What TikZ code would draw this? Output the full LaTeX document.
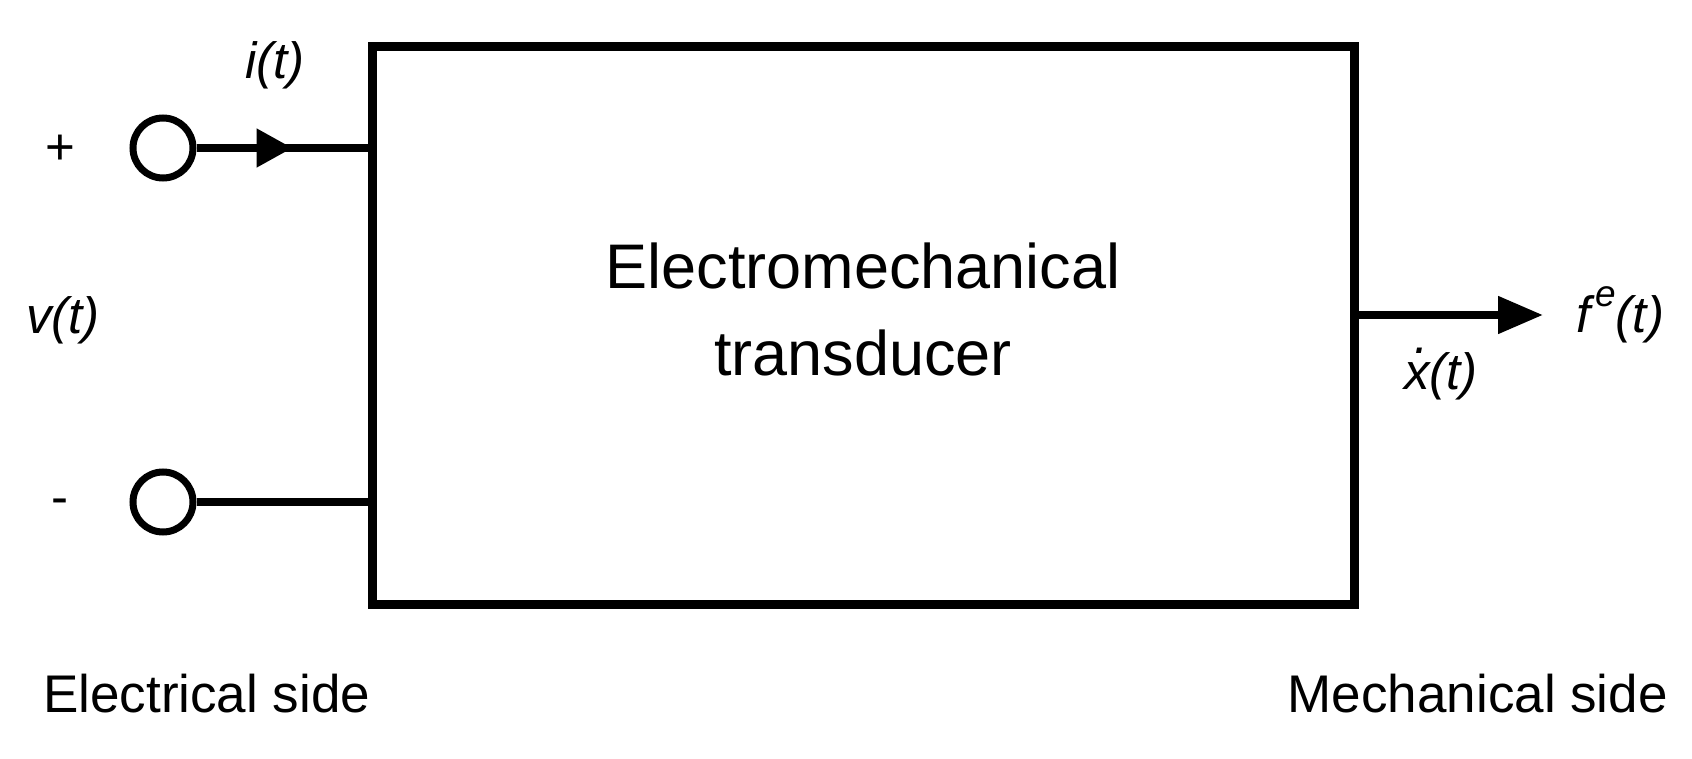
\documentclass[tikz,border=0pt]{standalone}
\usepackage{fontspec}
\setmainfont{Liberation Sans}
\usetikzlibrary{arrows.meta, positioning, decorations.markings}
\newcommand{\xdot}{\rlap{\kern0.2em\raisebox{0.72em}{.}}x}
\newcommand{\supe}{\kern0.1em\raisebox{0.5em}{\fontsize{37}{40}\selectfont e}}

\begin{document}
\begin{tikzpicture}[x=1pt,y=-1pt,>={Triangle[length=45pt,width=36pt]},
  terminal/.style={circle, draw, line width=7pt, minimum size=60pt, inner sep=0pt},
  transducer/.style={draw, line width=9pt, minimum width=982pt, minimum height=557pt},
  wire/.style={line width=8pt},
  sig/.style={font=\fontsize{51}{60}\selectfont\itshape, inner sep=0pt},
  side/.style={font=\fontsize{53}{64}\selectfont, inner sep=0pt}]

  \useasboundingbox (0,0) rectangle (1692,759);

  \node[transducer] (tr) at (863,325.5) {};
  \node[align=center, inner sep=0pt, font=\fontsize{63}{87}\selectfont] (name) at (863,309) {Electromechanical\\transducer};

  \node[terminal] (p) at (163,148) {};
  \node[terminal] (n) at (163,502) {};
  \coordinate (fe) at (1543,315);

  \draw[wire, postaction={decorate}, decoration={markings,
    mark=at position 96pt with {\arrow{Triangle[length=36pt,width=37pt]}}}]
    (p) -- (p -| tr.west);
  \draw[wire] (n) -- (n -| tr.west);
  \draw[wire, ->] (tr.east |- fe) -- (fe);

  \node[sig, font=\fontsize{51}{60}\selectfont, anchor=base] (plus) at (60,165) {+};
  \node[sig, font=\fontsize{51}{60}\selectfont, anchor=base] (minus) at (60,514) {-};
  \node[sig] (i) at (275,65) {i(t)};
  \node[sig] (v) at (63,320) {v(t)};
  \node[sig, anchor=base] (f) at (1620,332) {f\supe(t)};
  \node[sig] (xd) at (1441,374) {\xdot(t)};

  \node[side, anchor=base west] (es) at (43,712) {Electrical side};
  \node[side, anchor=base east] (ms) at (1668,712) {Mechanical side};
\end{tikzpicture}
\end{document}
